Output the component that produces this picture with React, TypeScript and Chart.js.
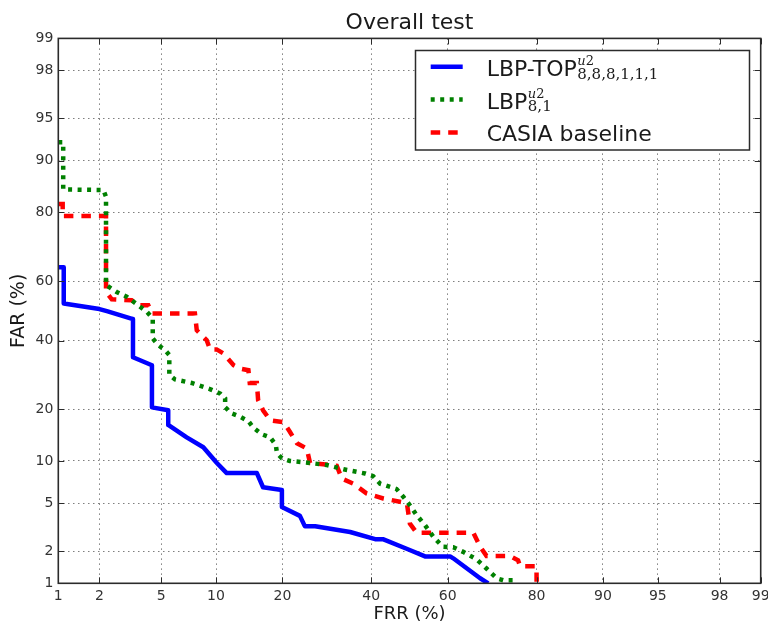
import React, { useEffect, useRef } from 'react';
import { Chart, LinearScale, registerables } from 'chart.js';

// ---------- data (percent) ----------
const TICK_VALUES = [1, 2, 5, 10, 20, 40, 60, 80, 90, 95, 98, 99];
const TICK_LABELS = ['1', '2', '5', '10', '20', '40', '60', '80', '90', '95', '98', '99'];

const TITLE = 'Overall test';
const X_LABEL = 'FRR (%)';
const Y_LABEL = 'FAR (%)';

const BLUE_FRR = [1.0, 1.1, 1.1, 2.0, 2.25, 3.35, 3.35, 4.4, 4.4, 5.5, 5.5, 7.0, 8.6, 10.1, 11.3, 15.6, 16.6, 19.9, 19.9, 23.4, 24.4, 26.6, 34.7, 41.0, 43.0, 49.4, 54.1, 60.6, 61.4, 68.0, 69.9];
const BLUE_FAR = [64.5, 64.5, 52.5, 50.6, 49.9, 47.2, 34.6, 32.1, 20.5, 19.8, 16.5, 14.0, 12.2, 9.7, 8.3, 8.3, 6.6, 6.3, 4.7, 4.0, 3.3, 3.3, 2.95, 2.56, 2.56, 2.1, 1.8, 1.8, 1.73, 1.12, 1.0];

const GREEN_FRR = [1.0, 1.09, 1.09, 2.13, 2.22, 2.22, 2.62, 3.05, 3.62, 4.09, 4.45, 4.45, 4.8, 5.27, 5.58, 5.58, 6.02, 7.46, 9.3, 10.5, 11.1, 11.1, 11.9, 13.1, 14.3, 15.0, 16.4, 17.8, 18.8, 19.0, 19.9, 21.4, 25.5, 29.2, 33.1, 38.4, 40.5, 42.3, 46.6, 48.4, 50.1, 51.9, 54.1, 56.3, 58.7, 61.4, 63.9, 67.2, 69.5, 71.8, 73.3, 75.8, 75.8];
const GREEN_FAR = [92.5, 92.5, 85.0, 84.9, 83.5, 58.7, 56.4, 54.8, 51.9, 49.7, 47.4, 40.7, 38.5, 36.9, 35.3, 29.2, 27.9, 26.9, 25.2, 24.0, 22.7, 20.5, 19.1, 18.3, 17.3, 16.0, 14.6, 14.0, 12.6, 11.2, 10.4, 10.0, 9.7, 9.4, 8.8, 8.25, 7.9, 7.0, 6.4, 5.6, 4.85, 4.05, 3.36, 2.68, 2.2, 2.18, 1.98, 1.69, 1.39, 1.12, 1.07, 1.07, 1.0];

const RED_FRR = [1.0, 1.08, 1.08, 2.22, 2.22, 2.43, 3.29, 3.71, 4.18, 4.4, 7.76, 7.94, 8.96, 9.32, 10.07, 10.9, 12.2, 13.1, 14.3, 14.5, 15.6, 15.8, 16.6, 17.8, 20.2, 21.4, 22.8, 24.8, 25.5, 31.5, 32.7, 35.5, 38.8, 43.1, 49.3, 50.1, 51.9, 66.4, 68.0, 69.5, 74.7, 76.4, 76.8, 80.0, 80.0, 81.2];
const RED_FAR = [81.9, 81.9, 79.1, 79.1, 56.4, 53.9, 53.6, 51.9, 51.9, 49.1, 49.1, 43.4, 40.1, 37.1, 37.1, 35.8, 32.1, 31.1, 30.6, 26.9, 26.9, 22.3, 19.8, 17.5, 17.1, 15.1, 12.9, 12.0, 9.7, 9.3, 7.6, 7.0, 5.95, 5.46, 5.03, 3.47, 2.9, 2.9, 2.2, 1.82, 1.82, 1.66, 1.46, 1.46, 1.09, 1.09];

// ---------- probit (normal deviate) scale ----------
function probit(pIn: number): number {
  const p = Math.min(1 - 1e-9, Math.max(1e-9, pIn));
  const a = [-3.969683028665376e1, 2.209460984245205e2, -2.759285104469687e2, 1.38357751867269e2, -3.066479806614716e1, 2.506628277459239];
  const b = [-5.447609879822406e1, 1.615858368580409e2, -1.556989798598866e2, 6.680131188771972e1, -1.328068155288572e1];
  const c = [-7.784894002430293e-3, -3.223964580411365e-1, -2.400758277161838, -2.549732539343734, 4.374664141464968, 2.938163982698783];
  const d = [7.784695709041462e-3, 3.224671290700398e-1, 2.445134137142996, 3.754408661907416];
  const pl = 0.02425;
  if (p < pl) {
    const q = Math.sqrt(-2 * Math.log(p));
    return (((((c[0] * q + c[1]) * q + c[2]) * q + c[3]) * q + c[4]) * q + c[5]) / ((((d[0] * q + d[1]) * q + d[2]) * q + d[3]) * q + 1);
  }
  if (p <= 1 - pl) {
    const q = p - 0.5;
    const r = q * q;
    return ((((((a[0] * r + a[1]) * r + a[2]) * r + a[3]) * r + a[4]) * r + a[5]) * q) / (((((b[0] * r + b[1]) * r + b[2]) * r + b[3]) * r + b[4]) * r + 1);
  }
  const q = Math.sqrt(-2 * Math.log(1 - p));
  return -(((((c[0] * q + c[1]) * q + c[2]) * q + c[3]) * q + c[4]) * q + c[5]) / ((((d[0] * q + d[1]) * q + d[2]) * q + d[3]) * q + 1);
}

function normCdf(z: number): number {
  const x = Math.abs(z) / Math.SQRT2;
  const t = 1 / (1 + 0.3275911 * x);
  const y = 1 - (((((1.061405429 * t - 1.453152027) * t) + 1.421413741) * t - 0.284496736) * t + 0.254829592) * t * Math.exp(-x * x);
  return z >= 0 ? 0.5 * (1 + y) : 0.5 * (1 - y);
}

class ProbitScale extends LinearScale {
  static id = 'probit';
  _pLo = -2.3263;
  _pHi = 2.3263;
  buildTicks() {
    return TICK_VALUES.filter((v) => v >= this.min && v <= this.max).map((v) => ({ value: v }));
  }
  configure() {
    super.configure();
    this._pLo = probit(this.min / 100);
    this._pHi = probit(this.max / 100);
  }
  getPixelForValue(value: number) {
    return this.getPixelForDecimal((probit(value / 100) - this._pLo) / (this._pHi - this._pLo));
  }
  getValueForPixel(pixel: number) {
    return 100 * normCdf(this._pLo + this.getDecimalForPixel(pixel) * (this._pHi - this._pLo));
  }
}

Chart.register(...registerables, ProbitScale as any);

const FONT = "'DejaVu Sans', 'Noto Sans', sans-serif";
const MATH_FONT = "'DejaVu Serif', 'Liberation Serif', serif";

const toPoints = (xs: number[], ys: number[]) => xs.map((x, i) => ({ x, y: ys[i] }));

// ---------- plugins ----------
const framePlugin = {
  id: 'frameTicks',
  afterDatasetsDraw(chart: any) {
    const { ctx, chartArea: a, scales } = chart;
    const xs = scales.x;
    const ys = scales.y;
    ctx.save();
    ctx.strokeStyle = '#2b2b2b';
    ctx.lineWidth = 1;
    const len = 6;
    ctx.beginPath();
    xs.ticks.forEach((t: any) => {
      const px = Math.round(xs.getPixelForValue(t.value)) + 0.5;
      ctx.moveTo(px, a.bottom);
      ctx.lineTo(px, a.bottom - len);
      ctx.moveTo(px, a.top);
      ctx.lineTo(px, a.top + len);
    });
    ys.ticks.forEach((t: any) => {
      const py = Math.round(ys.getPixelForValue(t.value)) + 0.5;
      ctx.moveTo(a.left, py);
      ctx.lineTo(a.left + len, py);
      ctx.moveTo(a.right, py);
      ctx.lineTo(a.right - len, py);
    });
    ctx.stroke();
    ctx.lineWidth = 1.6;
    ctx.strokeRect(a.left, a.top, a.right - a.left, a.bottom - a.top);
    ctx.restore();
  },
};

type Entry = {
  color: string;
  dash: number[];
  width: number;
  main: string;
  sup?: string;
  sub?: string;
};

const LEGEND_ENTRIES: Entry[] = [
  { color: '#0000ff', dash: [], width: 4.5, main: 'LBP-TOP', sup: 'u2', sub: '8,8,8,1,1,1' },
  { color: '#008000', dash: [4, 5.5], width: 4.5, main: 'LBP', sup: 'u2', sub: '8,1' },
  { color: '#ff0000', dash: [9.5, 8], width: 4.5, main: 'CASIA baseline' },
];

const legendPlugin = {
  id: 'customLegend',
  afterDraw(chart: any) {
    const { ctx } = chart;
    const box = { x: 415.5, y: 50.5, w: 334, h: 99.5 };
    ctx.save();
    ctx.fillStyle = '#ffffff';
    ctx.fillRect(box.x, box.y, box.w, box.h);
    ctx.strokeStyle = '#2b2b2b';
    ctx.lineWidth = 1.5;
    ctx.strokeRect(box.x, box.y, box.w, box.h);
    const baselines = [76, 108.5, 140.5];
    const lineYs = [66.7, 99.5, 132.5];
    LEGEND_ENTRIES.forEach((e, i) => {
      ctx.save();
      ctx.strokeStyle = e.color;
      ctx.lineWidth = e.width;
      ctx.lineCap = 'butt';
      ctx.setLineDash(e.dash);
      ctx.beginPath();
      ctx.moveTo(430.7, lineYs[i]);
      ctx.lineTo(462.7, lineYs[i]);
      ctx.stroke();
      ctx.restore();

      const bl = baselines[i];
      ctx.fillStyle = '#1a1a1a';
      ctx.textBaseline = 'alphabetic';
      ctx.textAlign = 'left';
      ctx.font = `22px ${FONT}`;
      const tx = 486.7;
      ctx.fillText(e.main, tx, bl);
      const w = ctx.measureText(e.main).width;
      const sx = tx + w + 0.5;
      if (e.sup) {
        ctx.font = `italic 13px ${MATH_FONT}`;
        ctx.fillText(e.sup[0], sx, bl - 11);
        const uw = ctx.measureText(e.sup[0]).width;
        ctx.font = `13px ${MATH_FONT}`;
        ctx.fillText(e.sup.slice(1), sx + uw, bl - 11);
      }
      if (e.sub) {
        ctx.font = `15px ${MATH_FONT}`;
        ctx.fillText(e.sub, sx, bl + 2.5);
      }
    });
    ctx.restore();
  },
};

export default function App() {
  const ref = useRef<HTMLCanvasElement>(null);

  useEffect(() => {
    if (!ref.current) return;
    const tickFont = { family: FONT, size: 14 };
    const chart = new Chart(ref.current, {
      type: 'line',
      data: {
        datasets: [
          {
            label: 'LBP-TOP u2 8,8,8,1,1,1',
            data: toPoints(BLUE_FRR, BLUE_FAR),
            borderColor: '#0000ff',
            borderWidth: 4.5,
            pointRadius: 0,
            tension: 0,
            fill: false,
            borderJoinStyle: 'round',
          },
          {
            label: 'LBP u2 8,1',
            data: toPoints(GREEN_FRR, GREEN_FAR),
            borderColor: '#008000',
            borderWidth: 4.5,
            borderDash: [4, 5.5],
            borderCapStyle: 'butt',
            pointRadius: 0,
            tension: 0,
            fill: false,
          },
          {
            label: 'CASIA baseline',
            data: toPoints(RED_FRR, RED_FAR),
            borderColor: '#ff0000',
            borderWidth: 4.5,
            borderDash: [9.5, 8],
            borderCapStyle: 'butt',
            pointRadius: 0,
            tension: 0,
            fill: false,
          },
        ],
      } as any,
      options: {
        animation: false,
        responsive: false,
        devicePixelRatio: 1,
        layout: { padding: { left: 0, right: 7.3, top: 0, bottom: 0 } },
        plugins: {
          legend: { display: false },
          tooltip: { enabled: false },
          title: {
            display: true,
            text: TITLE,
            fullSize: false,
            color: '#1a1a1a',
            font: { family: FONT, size: 22, weight: 'normal' },
            padding: { top: 10, bottom: 2 },
          },
        },
        scales: {
          x: {
            type: 'probit' as any,
            min: 1,
            max: 99,
            border: { display: false, dash: [1.5, 3.5] },
            grid: { color: 'rgba(0,0,0,0.5)', lineWidth: 1, drawTicks: false },
            ticks: {
              autoSkip: false,
              maxRotation: 0,
              padding: 5,
              color: '#333333',
              font: tickFont,
              callback: (_v: any, i: number) => TICK_LABELS[i],
            },
            title: {
              display: true,
              text: X_LABEL,
              color: '#1a1a1a',
              font: { family: FONT, size: 18 },
              padding: { top: 0, bottom: 1 },
            },
            afterFit: (s: any) => {
              s.height = 42.7;
              s.paddingLeft = 0;
              s.paddingRight = 0;
            },
          },
          y: {
            type: 'probit' as any,
            min: 1,
            max: 99,
            border: { display: false, dash: [1.5, 3.5] },
            grid: { color: 'rgba(0,0,0,0.5)', lineWidth: 1, drawTicks: false },
            ticks: {
              autoSkip: false,
              padding: 5,
              color: '#333333',
              font: tickFont,
              callback: (_v: any, i: number) => TICK_LABELS[i],
            },
            title: {
              display: true,
              text: Y_LABEL,
              color: '#1a1a1a',
              font: { family: FONT, size: 19 },
              padding: { top: 8, bottom: 0 },
            },
            afterFit: (s: any) => {
              s.width = 58.3;
              s.paddingTop = 0;
              s.paddingBottom = 0;
            },
          },
        },
      } as any,
      plugins: [framePlugin, legendPlugin],
    });
    return () => chart.destroy();
  }, []);

  return (
    <div style={{ position: 'absolute', left: 0, top: 0, width: 768, height: 626, background: '#ffffff' }}>
      <canvas ref={ref} width={768} height={626} style={{ display: 'block', width: 768, height: 626 }} />
    </div>
  );
}
